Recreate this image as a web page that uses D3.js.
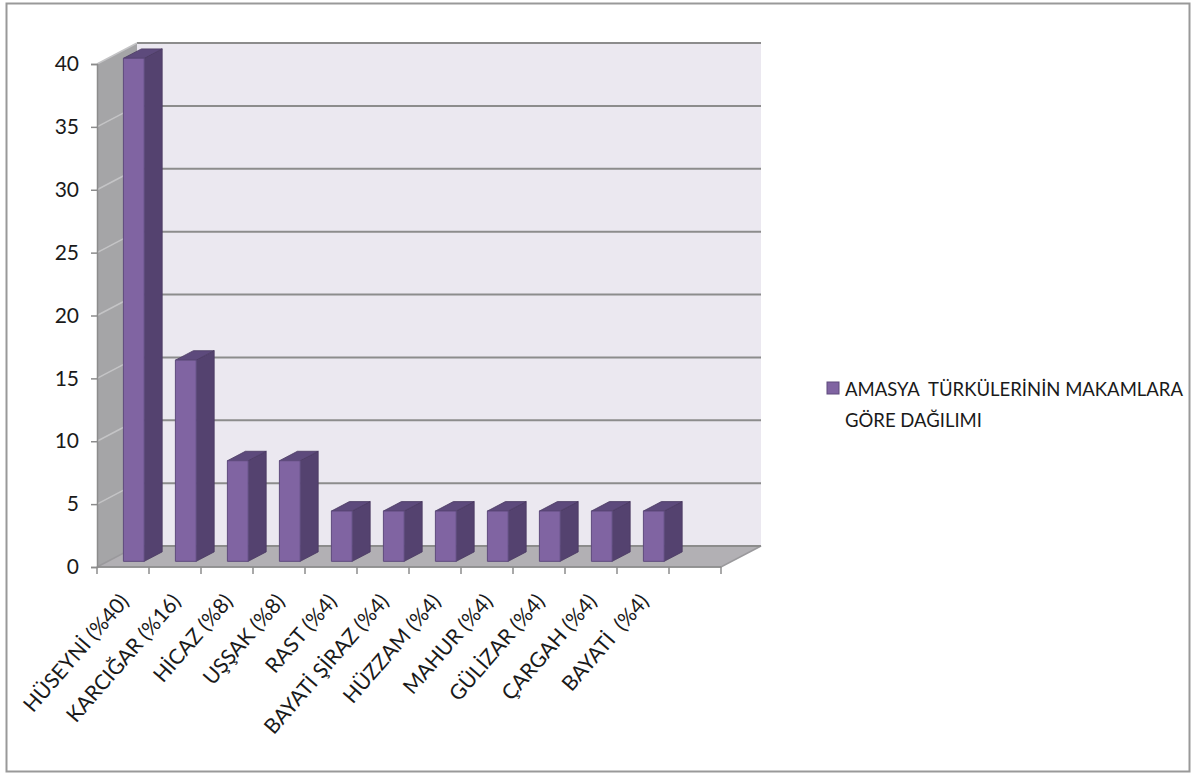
<!DOCTYPE html>
<html>
<head>
<meta charset="utf-8">
<script src="https://cdn.jsdelivr.net/npm/d3@7"></script>
<style>
  body { margin: 0; background: #fff; }
  svg { display: block; font-family: Lato, "Open Sans", sans-serif; }
</style>
</head>
<body>
<svg width="1195" height="776"></svg>
<script>
const categories = ["HÜSEYNİ (%40)", "KARCIĞAR (%16)", "HİCAZ (%8)", "UŞŞAK (%8)", "RAST (%4)",
  "BAYATİ ŞİRAZ (%4)", "HÜZZAM (%4)", "MAHUR (%4)", "GÜLİZAR (%4)", "ÇARGAH (%4)", "BAYATİ  (%4)"];
const values = [40, 16, 8, 8, 4, 4, 4, 4, 4, 4, 4];
const yTicks = [0, 5, 10, 15, 20, 25, 30, 35, 40];
const seriesName = ["AMASYA  TÜRKÜLERİNİN MAKAMLARA", "GÖRE DAĞILIMI"];

const svg = d3.select("svg");

// frame
svg.append("rect")
  .attr("x", 6.5).attr("y", 3.5).attr("width", 1183).attr("height", 768)
  .attr("fill", "#fff").attr("stroke", "#999").attr("stroke-width", 2);

// 3d geometry
const left = 97;
const step = 52;
const slots = 12; // one empty slot at the end, as in the original
const DX = 40, DY = 21;
const zf = 0.27, zb = 0.72;

const x = d3.scaleBand()
  .domain(categories)
  .range([left, left + step * categories.length])
  .paddingInner(0.6)
  .paddingOuter(0.3);
const right = left + step * slots;

const y = d3.scaleLinear().domain([0, 40]).range([567, 64]);

const P = (px, v, f) => [px + f * DX, y(v) - f * DY];
const poly = pts => "M" + pts.map(p => p.join(",")).join("L") + "Z";

// back wall
svg.append("path")
  .attr("d", poly([P(left, 0, 1), P(right, 0, 1), P(right, 40, 1), P(left, 40, 1)]))
  .attr("fill", "#ebe8f0");

// left wall
svg.append("path")
  .attr("d", poly([P(left, 0, 0), P(left, 0, 1), P(left, 40, 1), P(left, 40, 0)]))
  .attr("fill", "#a5a5a7");

// floor
svg.append("path")
  .attr("d", poly([P(left, 0, 0), P(right, 0, 0), P(right, 0, 1), P(left, 0, 1)]))
  .attr("fill", "#b2b0b4")
  .attr("stroke", "#9a999c").attr("stroke-width", 1.5);

// gridlines
const grid = svg.append("g");
grid.selectAll("line.back")
  .data(yTicks)
  .join("line")
  .attr("class", "back")
  .attr("x1", d => P(left, d, 1)[0]).attr("y1", d => P(left, d, 1)[1])
  .attr("x2", d => P(right, d, 1)[0]).attr("y2", d => P(right, d, 1)[1])
  .attr("stroke", "#8c8c8c").attr("stroke-width", 2);
grid.selectAll("line.side")
  .data(yTicks.filter(d => d > 0))
  .join("line")
  .attr("class", "side")
  .attr("x1", d => P(left, d, 0)[0]).attr("y1", d => P(left, d, 0)[1])
  .attr("x2", d => P(left, d, 1)[0]).attr("y2", d => P(left, d, 1)[1])
  .attr("stroke", "#c4c4c6").attr("stroke-width", 1.5);

// bars
const bars = svg.append("g")
  .selectAll("g")
  .data(categories.map((c, i) => ({ c, v: values[i] })))
  .join("g");

bars.append("path")
  .attr("d", d => {
    const xa = x(d.c) + x.bandwidth();
    return poly([P(xa, 0, zf), P(xa, 0, zb), P(xa, d.v, zb), P(xa, d.v, zf)]);
  })
  .attr("fill", "#54426f").attr("stroke", "#4a3a62").attr("stroke-width", 0.8);

bars.append("path")
  .attr("d", d => {
    const xa = x(d.c), xb = xa + x.bandwidth();
    return poly([P(xa, d.v, zf), P(xb, d.v, zf), P(xb, d.v, zb), P(xa, d.v, zb)]);
  })
  .attr("fill", "#5d4a7c").attr("stroke", "#4a3a62").attr("stroke-width", 0.8);

bars.append("path")
  .attr("d", d => {
    const xa = x(d.c), xb = xa + x.bandwidth();
    return poly([P(xa, 0, zf), P(xb, 0, zf), P(xb, d.v, zf), P(xa, d.v, zf)]);
  })
  .attr("fill", "#8064a2").attr("stroke", "#5e4a7d").attr("stroke-width", 1);

// y axis
const yAxis = svg.append("g")
  .attr("transform", `translate(${left},0)`)
  .call(d3.axisLeft(y).tickValues(yTicks).tickSize(6).tickPadding(12));
yAxis.select(".domain").attr("stroke", "#8c8c8c").attr("stroke-width", 1.5);
yAxis.selectAll(".tick line").attr("stroke", "#8c8c8c").attr("stroke-width", 1.5);
yAxis.selectAll(".tick text")
  .attr("font-size", 21).attr("font-family", "Lato, sans-serif").attr("fill", "#1a1a1a");

// x axis
const xAxisG = svg.append("g");
xAxisG.append("line")
  .attr("x1", left).attr("x2", right).attr("y1", y(0)).attr("y2", y(0))
  .attr("stroke", "#8c8c8c").attr("stroke-width", 1.5);
xAxisG.selectAll("line.tick")
  .data(d3.range(slots + 1))
  .join("line")
  .attr("class", "tick")
  .attr("x1", i => left + i * step).attr("x2", i => left + i * step)
  .attr("y1", y(0)).attr("y2", y(0) + 7)
  .attr("stroke", "#8c8c8c").attr("stroke-width", 1.5);
xAxisG.selectAll("text")
  .data(categories)
  .join("text")
  .attr("transform", d => `translate(${x(d) + x.bandwidth() / 2 + 7},${y(0) + 35}) rotate(-49)`)
  .attr("text-anchor", "end")
  .attr("font-size", 21)
  .attr("fill", "#1a1a1a")
  .style("white-space", "pre")
  .text(d => d);

// legend
const legend = svg.append("g");
legend.append("rect")
  .attr("x", 827).attr("y", 382).attr("width", 12).attr("height", 12)
  .attr("fill", "#8064a2").attr("stroke", "#5e4a7d");
legend.selectAll("text")
  .data(seriesName)
  .join("text")
  .attr("x", 845)
  .attr("y", (d, i) => 396 + i * 31)
  .attr("font-size", 18.5)
  .attr("fill", "#1a1a1a")
  .style("white-space", "pre")
  .text(d => d);
</script>
</body>
</html>
